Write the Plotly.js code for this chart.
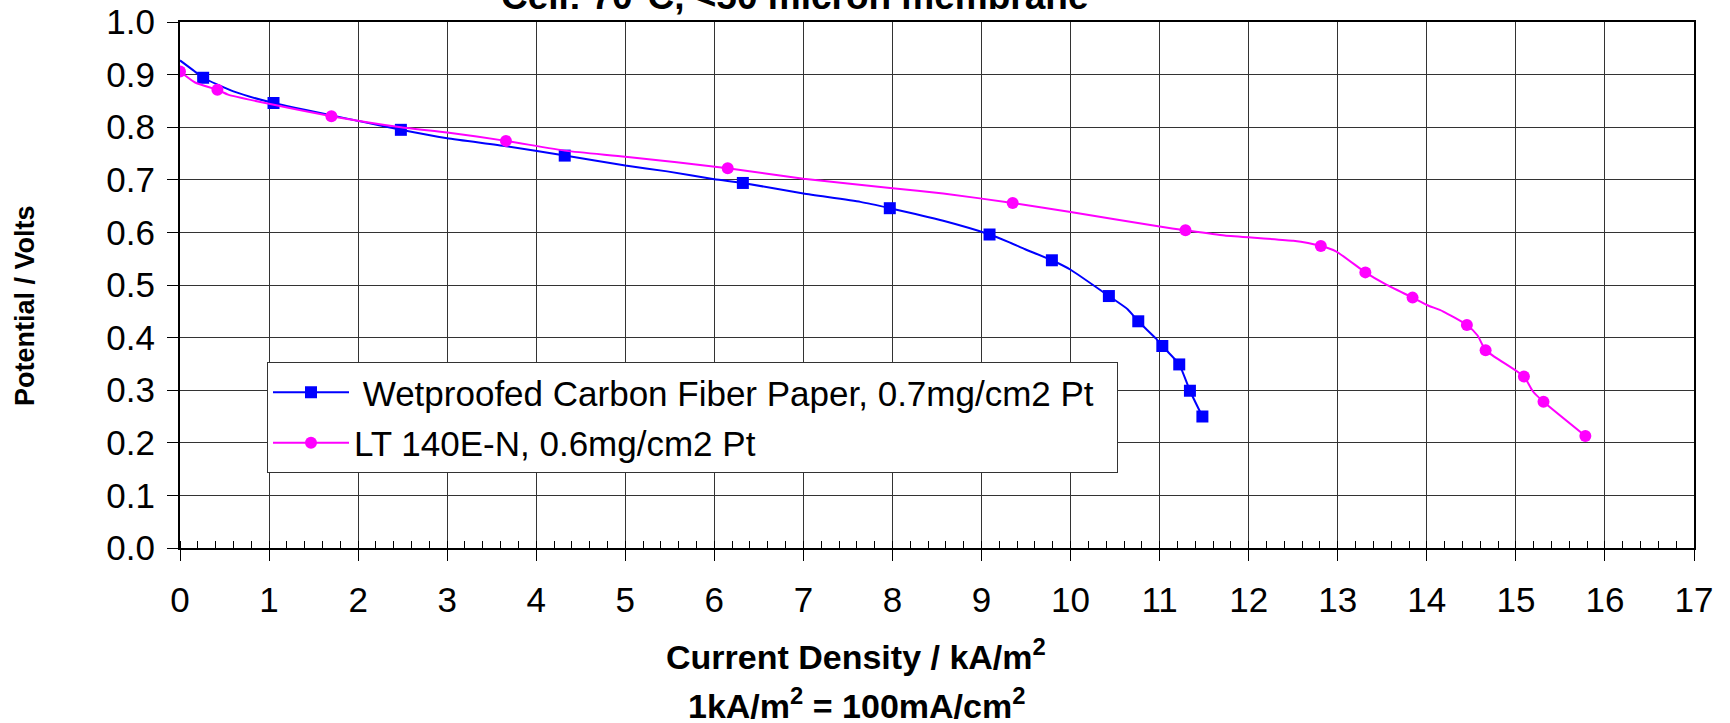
<!DOCTYPE html>
<html>
<head>
<meta charset="utf-8">
<script src="https://cdn.plot.ly/plotly-3.0.1.min.js"></script>
<style>
  html, body { margin: 0; padding: 0; background: #ffffff; }
  #chart { width: 1730px; height: 723px; }
</style>
</head>
<body>
<div id="chart"></div>
<script>
// ---- Data ----
// Wetproofed Carbon Fiber Paper, 0.7mg/cm2 Pt  (line points; 1 = point carries a marker)
const wetX    = [0.00, 0.15, 0.26, 0.60, 1.05, 2.00, 2.48, 3.00, 3.66, 4.32, 5.00, 5.47, 6.00, 6.32, 7.00, 7.64, 7.97, 8.57, 9.09, 9.30, 9.49, 9.79, 10.00, 10.43, 10.64, 10.76, 10.96, 11.03, 11.22, 11.34, 11.48];
const wetY    = [0.927, 0.908, 0.894, 0.868, 0.846, 0.812, 0.795, 0.779, 0.764, 0.746, 0.727, 0.716, 0.701, 0.694, 0.674, 0.658, 0.646, 0.622, 0.596, 0.582, 0.568, 0.547, 0.529, 0.479, 0.454, 0.431, 0.398, 0.384, 0.349, 0.299, 0.250];
const wetMark = [0, 0, 1, 0, 1, 0, 1, 0, 0, 1, 0, 0, 0, 1, 0, 0, 1, 0, 1, 0, 0, 1, 0, 1, 0, 1, 0, 1, 1, 1, 1];

// LT 140E-N, 0.6mg/cm2 Pt
const ltX    = [0.00, 0.17, 0.42, 0.54, 1.04, 1.70, 2.48, 3.00, 3.66, 4.34, 5.00, 6.15, 7.00, 8.00, 8.57, 9.35, 10.00, 11.00, 11.29, 11.73, 12.50, 12.81, 12.98, 13.31, 13.54, 13.84, 14.00, 14.18, 14.45, 14.57, 14.66, 15.09, 15.19, 15.31, 15.78];
const ltY    = [0.906, 0.885, 0.871, 0.862, 0.843, 0.821, 0.800, 0.790, 0.774, 0.755, 0.744, 0.722, 0.702, 0.684, 0.674, 0.656, 0.639, 0.611, 0.604, 0.594, 0.584, 0.574, 0.564, 0.524, 0.501, 0.476, 0.462, 0.450, 0.424, 0.404, 0.376, 0.326, 0.298, 0.278, 0.213];
const ltMark = [1, 0, 1, 0, 0, 1, 0, 0, 1, 0, 0, 1, 0, 0, 0, 1, 0, 0, 1, 0, 0, 1, 0, 1, 0, 1, 0, 0, 1, 0, 1, 1, 0, 1, 1];

const seriesNames = ['\u2005Wetproofed Carbon Fiber Paper, 0.7mg/cm2 Pt\u2002', 'LT 140E-N, 0.6mg/cm2 Pt'];
const xTickVals = [0,1,2,3,4,5,6,7,8,9,10,11,12,13,14,15,16,17];
const yTickVals = [0.0,0.1,0.2,0.3,0.4,0.5,0.6,0.7,0.8,0.9,1.0];

const chartTitle = 'Cell: 70°C, &lt;50 micron membrane';
const xTitle1 = 'Current Density / kA/m<sup>2</sup>';
const xTitle2 = '1kA/m<sup>2</sup> = 100mA/cm<sup>2</sup>';
const yTitle = 'Potential / Volts';

// ---- Layout geometry (pixels) ----
const W = 1730, H = 723;
const M = {l: 180, r: 36, t: 22, b: 175};
const plotTop = M.t, plotBot = H - M.b, plotL = M.l, plotR = W - M.r;
const px2x = p => (p - plotL) / (plotR - plotL);
const px2y = p => (plotBot - p) / (plotBot - plotTop);

const FONT = 'Liberation Sans, Arial, Helvetica, sans-serif';
const idx = arr => arr.map((v, i) => v ? i : -1).filter(i => i >= 0);

const traces = [
  {
    x: wetX, y: wetY, name: seriesNames[0], type: 'scatter', mode: 'lines+markers',
    legendgroup: 'a',
    line: {color: '#0000ff', width: 2, shape: 'spline', smoothing: 0.5},
    marker: {symbol: 'square', size: 12, color: '#0000ff'},
    selectedpoints: idx(wetMark),
    selected: {marker: {opacity: 1}},
    unselected: {marker: {opacity: 0}},
    hoverinfo: 'x+y'
  },
  {
    x: ltX, y: ltY, name: seriesNames[1], type: 'scatter', mode: 'lines+markers',
    legendgroup: 'b',
    line: {color: '#ff00ff', width: 2, shape: 'spline', smoothing: 0.5},
    marker: {symbol: 'circle', size: 12, color: '#ff00ff'},
    selectedpoints: idx(ltMark),
    selected: {marker: {opacity: 1}},
    unselected: {marker: {opacity: 0}},
    hoverinfo: 'x+y'
  }
];

const axisCommon = {
  showgrid: true, gridcolor: '#333333', gridwidth: 1,
  showline: true, linecolor: '#000', linewidth: 2, mirror: true,
  zeroline: false,
  ticks: 'outside', ticklen: 11, tickwidth: 1, tickcolor: '#000',
  tickfont: {family: FONT, size: 35, color: '#000'},
  fixedrange: true
};

const layout = {
  width: W, height: H,
  margin: M,
  paper_bgcolor: '#fff', plot_bgcolor: '#fff',
  font: {family: FONT, color: '#000'},
  showlegend: true,
  xaxis: Object.assign({}, axisCommon, {
    range: [0, 17], tickmode: 'array', tickvals: xTickVals, ticktext: xTickVals.map(String),
    ticklabelstandoff: 9,
    minor: {dtick: 0.2, tick0: 0, ticks: 'inside', ticklen: 7, tickwidth: 1, tickcolor: '#000', showgrid: false}
  }),
  yaxis: Object.assign({}, axisCommon, {
    range: [0, 1], tickmode: 'array', tickvals: yTickVals, ticktext: yTickVals.map(v => v.toFixed(1)),
    ticklabelstandoff: 5
  }),
  legend: {
    x: px2x(267), y: px2y(362), xanchor: 'left', yanchor: 'top',
    bgcolor: '#fff', bordercolor: '#333', borderwidth: 1,
    font: {family: FONT, size: 35, color: '#000'},
    tracegroupgap: 2,
    itemwidth: 76
  },
  annotations: [
    {text: chartTitle, xref: 'paper', yref: 'paper', x: px2x(795), y: px2y(-3),
     xanchor: 'center', yanchor: 'middle', showarrow: false,
     font: {family: FONT, size: 37, color: '#000', weight: 'bold'}},
    {text: '<b>' + xTitle1 + '</b>', xref: 'paper', yref: 'paper', x: px2x(856), y: px2y(654),
     xanchor: 'center', yanchor: 'middle', showarrow: false,
     font: {family: FONT, size: 34, color: '#000'}},
    {text: '<b>' + xTitle2 + '</b>', xref: 'paper', yref: 'paper', x: px2x(856), y: px2y(703),
     xanchor: 'center', yanchor: 'middle', showarrow: false,
     font: {family: FONT, size: 34, color: '#000'}},
    {text: '<b>' + yTitle + '</b>', xref: 'paper', yref: 'paper', x: px2x(25), y: px2y(306),
     xanchor: 'center', yanchor: 'middle', showarrow: false, textangle: -90,
     font: {family: FONT, size: 27, color: '#000'}}
  ]
};

Plotly.newPlot('chart', traces, layout, {staticPlot: true, displayModeBar: false});
</script>
</body>
</html>
